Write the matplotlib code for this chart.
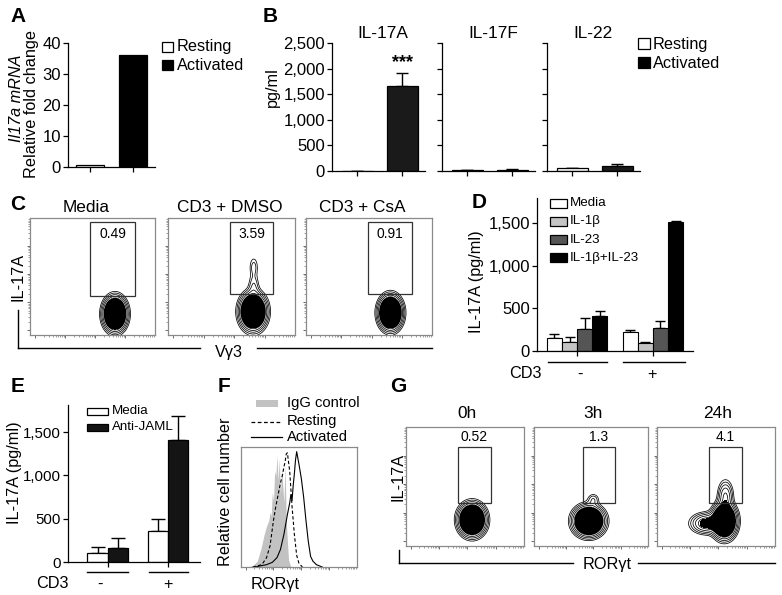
import matplotlib
matplotlib.use("Agg")
import matplotlib.pyplot as plt
import numpy as np
from matplotlib.patches import Rectangle
from matplotlib.ticker import FuncFormatter

plt.rcParams["font.family"] = ["Liberation Sans", "DejaVu Sans"]
plt.rcParams["font.size"] = 11.7
plt.rcParams["axes.linewidth"] = 0.9

# ---- data ----
# A: Il17a mRNA fold change
a_groups = ["Resting", "Activated"]
a_values = [0.8, 36.0]

# B: cytokines (pg/ml)
b_cytokines = ["IL-17A", "IL-17F", "IL-22"]
b_resting = [0, 15, 50]
b_resting_err = [0, 5, 15]
b_activated = [1660, 20, 100]
b_activated_err = [255, 10, 45]

# C: flow, IL-17A vs Vg3
c_titles = ["Media", "CD3 + DMSO", "CD3 + CsA"]
c_percent = ["0.49", "3.59", "0.91"]
# blobs: (x, y, sx, sy, weight) in axes units
c_blobs = [
    [(0.68, 0.18, 0.045, 0.07, 1.0)],
    [(0.67, 0.20, 0.05, 0.075, 1.0), (0.675, 0.42, 0.025, 0.06, 0.06),
     (0.675, 0.58, 0.022, 0.055, 0.05)],
    [(0.67, 0.19, 0.045, 0.07, 1.0)],
]
c_gates = [(0.48, 0.33, 0.84, 0.97), (0.49, 0.35, 0.83, 0.97), (0.49, 0.35, 0.84, 0.97)]

# D: IL-17A with cytokines
d_treatments = ["Media", "IL-1β", "IL-23", "IL-1β+IL-23"]
d_cd3 = ["-", "+"]
d_minus = [155, 105, 258, 410]
d_minus_err = [45, 60, 128, 58]
d_plus = [222, 90, 272, 1510]
d_plus_err = [25, 10, 80, 8]
d_colors = ["white", "#c4c4c4", "#555555", "black"]

# E: anti-JAML
e_series = ["Media", "Anti-JAML"]
e_cd3 = ["-", "+"]
e_media = [100, 358]
e_media_err = [75, 138]
e_jaml = [162, 1409]
e_jaml_err = [115, 277]

# F: RORgt histograms (x in axes fraction, normalised count)
igg_x = [0.04, 0.10, 0.14, 0.17, 0.20, 0.22, 0.24, 0.25, 0.26, 0.27, 0.28, 0.29, 0.30, 0.31,
         0.32, 0.33, 0.34, 0.35, 0.36, 0.37, 0.38, 0.39, 0.40, 0.41, 0.43]
igg_y = [0.0, 0.01, 0.05, 0.15, 0.28, 0.35, 0.40, 0.47, 0.44, 0.64, 0.57, 0.82, 0.78, 0.96,
         0.74, 0.93, 0.62, 0.86, 0.70, 0.55, 0.88, 0.40, 0.22, 0.06, 0.0]
rest_x = [0.10, 0.18, 0.22, 0.25, 0.28, 0.30, 0.32, 0.34, 0.36, 0.37, 0.38, 0.39, 0.40, 0.42,
          0.44, 0.46, 0.48, 0.50, 0.53]
rest_y = [0.0, 0.02, 0.08, 0.18, 0.40, 0.52, 0.62, 0.72, 0.80, 0.86, 0.90, 0.97, 0.98, 0.82,
          0.52, 0.28, 0.10, 0.03, 0.0]
act_x = [0.12, 0.22, 0.27, 0.31, 0.34, 0.37, 0.40, 0.42, 0.43, 0.44, 0.45, 0.46, 0.47, 0.48,
         0.50, 0.52, 0.54, 0.56, 0.58, 0.60, 0.62, 0.65, 0.70]
act_y = [0.0, 0.02, 0.04, 0.08, 0.15, 0.28, 0.45, 0.55, 0.62, 0.57, 0.70, 0.80, 0.92, 0.99,
         0.88, 0.76, 0.60, 0.40, 0.22, 0.09, 0.05, 0.02, 0.0]

# G: flow, IL-17A vs RORgt over time
g_titles = ["0h", "3h", "24h"]
g_percent = ["0.52", "1.3", "4.1"]
g_blobs = [
    [(0.56, 0.22, 0.055, 0.065, 1.0)],
    [(0.48, 0.21, 0.065, 0.06, 1.0), (0.52, 0.39, 0.03, 0.03, 0.06)],
    [(0.57, 0.21, 0.05, 0.07, 1.0), (0.58, 0.42, 0.035, 0.07, 0.16),
     (0.42, 0.19, 0.07, 0.045, 0.25)],
]
g_gates = [(0.44, 0.36, 0.72, 0.83), (0.43, 0.36, 0.71, 0.83), (0.44, 0.36, 0.72, 0.83)]

# contour radii (in sigma units) for the flow plots
ring_r = [2.75, 2.55, 2.35, 2.15, 1.95]
fill_r = 1.85

W, H = 782, 595
fig = plt.figure(figsize=(W / 100, H / 100), dpi=100)


def add_ax(x0, y0, x1, y1):
    return fig.add_axes([x0 / W, 1 - y1 / H, (x1 - x0) / W, (y1 - y0) / H])


def bar_axes(x0, y0, x1, y1, xlim, ylim, yticks, xticks, labels=True, size=12):
    ax = add_ax(x0, y0, x1, y1)
    ax.spines[["top", "right"]].set_visible(False)
    ax.set_xlim(*xlim)
    ax.set_ylim(*ylim)
    ax.set_yticks(yticks)
    ax.set_xticks(xticks)
    ax.set_xticklabels([])
    ax.tick_params(direction="out", length=3.5, width=0.9, labelsize=size, pad=1.5)
    if not labels:
        ax.set_yticklabels([])
    return ax


def up_err(ax, x, y, e, capsize=4):
    ax.errorbar(x, y, yerr=[np.zeros(len(e)), e], fmt="none", ecolor="black",
                elinewidth=1, capsize=capsize, capthick=1, zorder=1)


comma = FuncFormatter(lambda v, p: "{:,}".format(int(v)))

# ---- A ----
ax = bar_axes(68, 43, 155, 167, (-0.51, 1.51), (0, 40), [0, 10, 20, 30, 40], [0, 1])
ax.bar([0, 1], a_values, width=0.65, color=["white", "black"], edgecolor="black", lw=0.9)

# ---- B ----
b_pos = [(332, 425), (442, 535), (547, 640)]
for i, (x0, x1) in enumerate(b_pos):
    ax = bar_axes(x0, 43, x1, 171, (-0.56, 1.51), (0, 2500), [0, 500, 1000, 1500, 2000, 2500],
                  [0, 1], labels=(i == 0))
    ax.yaxis.set_major_formatter(comma)
    if i > 0:
        ax.set_yticklabels([])
    ax.bar([0, 1], [b_resting[i], b_activated[i]], width=0.69, color=["white", "#1a1a1a"],
           edgecolor="black", lw=0.9, zorder=2)
    if b_activated_err[i] or b_resting_err[i]:
        up_err(ax, [0, 1], [b_resting[i], b_activated[i]], [b_resting_err[i], b_activated_err[i]])
    if i == 0:
        ax.annotate("***", (1, b_activated[i] + b_activated_err[i]), xytext=(0, 1),
                    textcoords="offset points", ha="center", va="bottom", fontsize=13,
                    fontweight="bold")

# ---- D ----
ax = bar_axes(537, 198, 693, 351, (-0.53, 1.53), (0, 1790), [0, 500, 1000, 1500], [0, 1])
ax.yaxis.set_major_formatter(comma)
for j in range(4):
    off = (j - 1.5) * 0.2
    ax.bar([0 + off, 1 + off], [d_minus[j], d_plus[j]], width=0.2, color=d_colors[j],
           edgecolor="black", lw=0.8, zorder=2)
    up_err(ax, [0 + off, 1 + off], [d_minus[j], d_plus[j]], [d_minus_err[j], d_plus_err[j]],
           capsize=3.5)

# ---- E ----
ax = bar_axes(68, 405, 200, 562, (-0.65, 1.52), (0, 1813), [0, 500, 1000, 1500], [0, 1],
              size=10.8)
ax.yaxis.set_major_formatter(comma)
ax.bar(np.arange(2) - 0.165, e_media, width=0.33, color="white", edgecolor="black", lw=0.9,
       zorder=2)
ax.bar(np.arange(2) + 0.165, e_jaml, width=0.33, color="#141414", edgecolor="black", lw=0.9,
       zorder=2)
up_err(ax, np.arange(2) - 0.165, e_media, e_media_err, capsize=5)
up_err(ax, np.arange(2) + 0.165, e_jaml, e_jaml_err, capsize=5)


# ---- flow panels ----
def log_ticks(start, span, decades=4):
    major, minor = [], []
    for d in range(decades):
        base = start + d * span
        major.append(base)
        for k in range(2, 10):
            minor.append(base + np.log10(k) * span)
    return major, minor


def flow_ticks(ax, yaxis=True):
    for s in ax.spines.values():
        s.set_color("#8a8a8a")
        s.set_linewidth(0.9)
    major, minor = log_ticks(0.04, 0.24)
    ax.set_xticks(major)
    ax.set_xticks(minor, minor=True)
    if yaxis:
        ax.set_yticks(major)
        ax.set_yticks(minor, minor=True)
    else:
        ax.set_yticks([])
    ax.set_xticklabels([])
    ax.set_yticklabels([])
    ax.tick_params(which="major", length=2.5, width=0.6, color="#555555")
    ax.tick_params(which="minor", length=1.3, width=0.5, color="#777777")


def flow_panel(box, blobs, gate, pct, pct_y):
    ax = add_ax(*box)
    ax.set_xlim(0, 1)
    ax.set_ylim(0, 1)
    g = np.linspace(0, 1, 360)
    X, Y = np.meshgrid(g, g)
    Z = np.zeros_like(X)
    for cx, cy, sx, sy, w in blobs:
        Z += w * np.exp(-0.5 * (((X - cx) / sx) ** 2 + ((Y - cy) / sy) ** 2))
    zmax = Z.max()
    levels = sorted(zmax * np.exp(-0.5 * np.array(ring_r) ** 2))
    ax.contourf(X, Y, Z, levels=[zmax * np.exp(-0.5 * fill_r ** 2), 1.01 * zmax],
                colors="black")
    ax.contour(X, Y, Z, levels=levels, colors="black", linewidths=0.55)
    gx0, gy0, gx1, gy1 = gate
    ax.add_patch(Rectangle((gx0, gy0), gx1 - gx0, gy1 - gy0, fill=False, lw=0.9,
                           ec="#333333", zorder=3))
    ax.text((gx0 + gx1) / 2, pct_y, pct, ha="center", va="center", fontsize=10)
    flow_ticks(ax)
    return ax


c_boxes = [(30, 218, 155, 335), (168, 218, 295, 335), (306, 218, 432, 335)]
for i in range(3):
    flow_panel(c_boxes[i], c_blobs[i], c_gates[i], c_percent[i], 0.86)

g_boxes = [(406, 427, 524, 546), (534, 427, 648, 546), (657, 427, 775, 546)]
for i in range(3):
    flow_panel(g_boxes[i], g_blobs[i], g_gates[i], g_percent[i], 0.92)

# ---- F ----
ax = add_ax(241, 447, 357, 567)
ax.set_xlim(0, 1)
ax.set_ylim(0, 1.03)
ax.fill_between(igg_x, igg_y, color="#c2c2c2", lw=0)
ax.plot(rest_x, rest_y, color="black", lw=0.8, ls=(0, (3, 2)))
ax.plot(act_x, act_y, color="black", lw=0.8)
flow_ticks(ax, yaxis=False)

# ---- overlay for labels, legends, brackets (pixel coordinates) ----
ov = fig.add_axes([0, 0, 1, 1], zorder=10)
ov.set_xlim(0, W)
ov.set_ylim(H, 0)
ov.axis("off")


def t(x, y, s, **kw):
    kw.setdefault("ha", "center")
    kw.setdefault("va", "center")
    ov.text(x, y, s, **kw)


def seg(x0, y0, x1, y1, **kw):
    ov.plot([x0, x1], [y0, y1], color=kw.pop("color", "black"), lw=kw.pop("lw", 1), **kw)


for lab, x, y in [("A", 18, 17), ("B", 270, 17), ("C", 18, 205), ("D", 479, 203),
                  ("E", 18, 387), ("F", 224, 387), ("G", 398, 387)]:
    t(x, y, lab, fontsize=15, fontweight="heavy")

# A labels + legend
t(17, 98, "Il17a mRNA", rotation=90, style="italic")
t(32, 104, "Relative fold change", rotation=90)
for k, (name, col) in enumerate(zip(a_groups, ["white", "black"])):
    ov.add_patch(Rectangle((162, 42 + k * 18), 11, 10, fc=col, ec="black", lw=0.9))
    t(177, 47 + k * 18, name, ha="left")

# B labels + legend
t(272, 87, "pg/ml", rotation=90)
for name, x in zip(b_cytokines, [383, 493, 593]):
    t(x, 34, name, fontsize=12.4)
for k, (name, col) in enumerate(zip(a_groups, ["white", "black"])):
    ov.add_patch(Rectangle((638, 38 + k * 19), 12, 11, fc=col, ec="black", lw=0.9))
    t(653, 44 + k * 19, name, ha="left")

# C titles and bracket
for name, x in zip(c_titles, [86, 230, 362]):
    t(x, 207, name, fontsize=12.4)
t(18, 277, "IL-17A", rotation=90)
seg(18, 310, 18, 348)
seg(18, 348, 200, 348)
t(229, 352, "Vγ3")
seg(257, 348, 432, 348)

# D labels + legend
t(476, 282, "IL-17A (pg/ml)", rotation=90)
for k, (name, col) in enumerate(zip(d_treatments, d_colors)):
    y = 203 + k * 18.3
    ov.add_patch(Rectangle((550, y - 4.5), 17, 9, fc=col, ec="black", lw=0.9))
    t(570, y, name, ha="left", fontsize=9.6)
seg(548, 362, 607, 362)
seg(623, 362, 685, 362)
t(525, 374, "CD3")
for s, x in zip(d_cd3, [580, 652]):
    t(x, 374, s)

# E labels + legend
t(15, 473, "IL-17A (pg/ml)", rotation=90)
for k, (name, col) in enumerate(zip(e_series, ["white", "#141414"])):
    y = 411 + k * 16
    ov.add_patch(Rectangle((87, y - 3.5), 21, 7, fc=col, ec="black", lw=0.9))
    t(112, y, name, ha="left", fontsize=9.6)
seg(87, 572, 128, 572)
seg(149, 572, 188, 572)
t(52, 584, "CD3")
for s, x in zip(e_cd3, [100, 168]):
    t(x, 584, s)

# F labels + legend
t(225, 492, "Relative cell number", rotation=90)
t(275, 584, "RORγt")
ov.add_patch(Rectangle((256, 400), 22, 7, fc="#c2c2c2", ec="none"))
seg(251, 422, 282, 422, lw=0.9, ls=(0, (3, 2)))
seg(251, 437, 282, 437, lw=0.9)
for name, y in zip(["IgG control", "Resting", "Activated"], [403, 421, 437]):
    t(287, y, name, ha="left", fontsize=10.6)

# G titles and bracket
for name, x in zip(g_titles, [467, 593, 718]):
    t(x, 413, name, fontsize=12.4)
t(398, 477, "IL-17A", rotation=90)
seg(399, 550, 399, 563)
seg(399, 563, 573, 563)
t(607, 565, "RORγt")
seg(638, 563, 775, 563)

fig.savefig("out.png", dpi=100)
